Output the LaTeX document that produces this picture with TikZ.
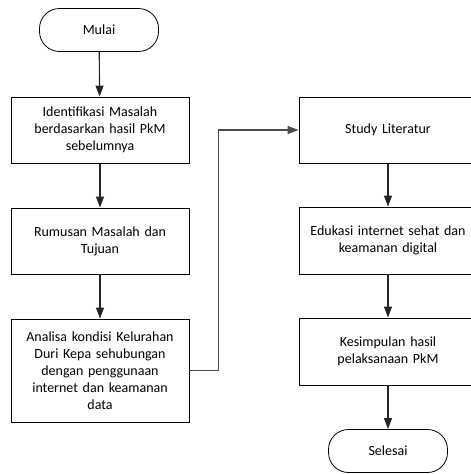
\documentclass[tikz,border=0pt]{standalone}
\usepackage{fontspec}
\setmainfont{Carlito}
\usepackage{tikz}
\usetikzlibrary{arrows.meta}

\tikzset{
  prosesbox/.style={draw, line width=0.9pt, minimum width=178pt, minimum height=66pt, text width=176pt, align=center, inner sep=0pt},
  terminal/.style={draw, line width=0.8pt, rounded corners=20pt, minimum width=119pt, minimum height=43pt, inner sep=0pt},
  alur/.style={->, line width=1.1pt, draw=black!85, >={Triangle[length=11pt,width=8pt]}}
}

\begin{document}
\begin{tikzpicture}[x=1pt, y=-1pt, font=\fontsize{14}{17}\selectfont]
                \useasboundingbox (0,0) rectangle (471,474);
                \node[terminal] at (99,30) (mulai) {Mulai};
                \node[prosesbox] at (100,130) (identifikasi) {Identifikasi Masalah\\berdasarkan hasil PkM\\sebelumnya};
                \node[prosesbox] at (100,241) (rumusan) {Rumusan Masalah dan\\Tujuan};
                \node[prosesbox, minimum height=103pt] at (100,370.5) (analisa) {Analisa kondisi Kelurahan\\Duri Kepa sehubungan\\dengan penggunaan\\internet dan keamanan\\data};
                \node[prosesbox] at (388,130) (studi) {Study Literatur};
                \node[prosesbox, minimum height=67pt] at (388,240.5) (edukasi) {Edukasi internet sehat dan\\keamanan digital};
                \node[prosesbox, minimum height=67pt] at (388,351.5) (kesimpulan) {Kesimpulan hasil\\pelaksanaan PkM};
                \node[terminal] at (388,451) (selesai) {Selesai};
                \draw[alur] (mulai) -- (identifikasi);
                \draw[alur] (identifikasi) -- (rumusan);
                \draw[alur] (rumusan) -- (analisa);
                \draw[alur, draw=black!70, line width=1.3pt] (analisa.east) -- ++(29,0) |- (studi.west);
                \draw[alur] (studi) -- (edukasi);
                \draw[alur] (edukasi) -- (kesimpulan);
                \draw[alur] (kesimpulan) -- (selesai);
\end{tikzpicture}
\end{document}
